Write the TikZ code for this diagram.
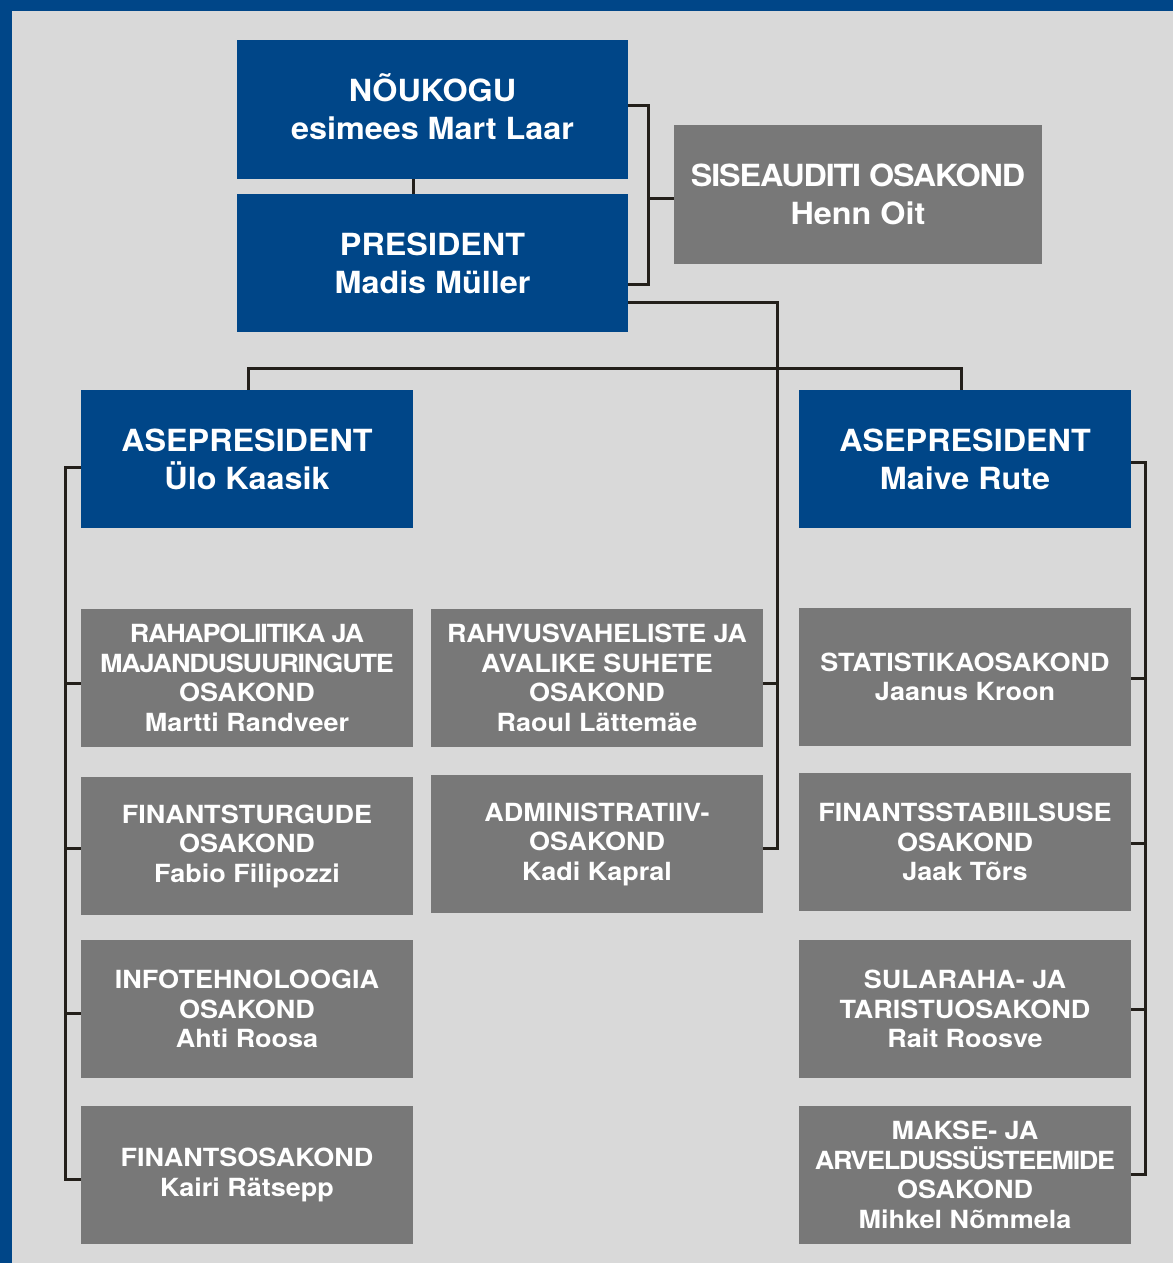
\documentclass[tikz,border=0pt]{standalone}
\usepackage{fontspec}
\setmainfont{TeX Gyre Heros}
\newfontfamily\topfont[FakeStretch=1.06]{TeX Gyre Heros}
\newfontfamily\deptfont[FakeStretch=1.08]{TeX Gyre Heros}
\newcommand\tight[2]{{\addfontfeatures{LetterSpace=#1}#2}}
\definecolor{bgc}{RGB}{217,217,217}
\definecolor{bluec}{RGB}{0,70,136}
\definecolor{grayc}{RGB}{120,120,120}
\definecolor{linec}{RGB}{35,31,26}
\tikzset{
  topbox/.style={fill=bluec, text=white, inner sep=0pt, align=center,
    font=\topfont\fontsize{30.5}{38}\selectfont\bfseries},
  sisebox/.style={fill=grayc, text=white, inner sep=0pt, align=center,
    font=\topfont\fontsize{30.5}{38}\selectfont\bfseries},
  deptbox/.style={fill=grayc, text=white, inner sep=0pt, align=center,
    minimum width=332pt, minimum height=138pt,
    font=\deptfont\fontsize{25}{29.5}\selectfont\bfseries},
  conn/.style={draw=linec, line width=3pt},
}
\begin{document}
\begin{tikzpicture}[x=1pt,y=-1pt]
\fill[bgc] (0,0) rectangle (1173,1263);
\fill[bluec] (0,0) rectangle (1173,11);
\fill[bluec] (0,0) rectangle (12,1263);
\useasboundingbox (0,0) rectangle (1173,1263);

\node[topbox, minimum width=391pt, minimum height=139pt] (nou) at (432.5,109.5) {\smash{NÕUKOGU}\vphantom{NOUKOGU}\\esimees Mart Laar};
\node[topbox, minimum width=391pt, minimum height=138pt] (pres) at (432.5,263) {PRESIDENT\\Madis Müller};
\node[sisebox, minimum width=368pt, minimum height=139pt] (sise) at (858,194.5) {\tight{-3.7}{SISEAUDITI OSAKOND}\\Henn Oit};
\node[topbox, minimum width=332pt, minimum height=138pt] (apL) at (247,459) {ASEPRESIDENT\\Ülo Kaasik};
\node[topbox, minimum width=332pt, minimum height=138pt] (apR) at (965,459) {ASEPRESIDENT\\Maive Rute};

\node[deptbox] (L1) at (247,678) {\tight{-5.3}{RAHAPOLIITIKA JA}\\\tight{-4.8}{MAJANDUSUURINGUTE}\\OSAKOND\\Martti Randveer};
\node[deptbox] (L2) at (247,846) {FINANTSTURGUDE\\OSAKOND\\Fabio Filipozzi};
\node[deptbox] (L3) at (247,1009) {INFOTEHNOLOOGIA\\OSAKOND\\Ahti Roosa};
\node[deptbox] (L4) at (247,1175) {FINANTSOSAKOND\\Kairi Rätsepp};

\node[deptbox] (M1) at (597,678) {\tight{-1}{RAHVUSVAHELISTE JA}\\AVALIKE SUHETE\\OSAKOND\\Raoul Lättemäe};
\node[deptbox] (M2) at (597,844) {ADMINISTRATIIV-\\OSAKOND\\Kadi Kapral};

\node[deptbox] (R1) at (965,677) {STATISTIKAOSAKOND\\Jaanus Kroon};
\node[deptbox] (R2) at (965,842) {FINANTSSTABIILSUSE\\OSAKOND\\Jaak Tõrs};
\node[deptbox] (R3) at (965,1009) {SULARAHA- JA\\TARISTUOSAKOND\\Rait Roosve};
\node[deptbox] (R4) at (965,1175) {MAKSE- JA\\\tight{-5.4}{ARVELDUSSÜSTEEMIDE}\\OSAKOND\\Mihkel Nõmmela};

% top connectors
\draw[conn] ([xshift=-19.5pt]nou.south) -- ([xshift=-19.5pt]pres.north);
\draw[conn] ([yshift=4.5pt]nou.east) -- ++(20,0) |- ([yshift=-21pt]pres.east);
\draw[conn] ([yshift=-3.5pt]sise.west) -- ++(-26,0);

% president to vice-presidents
\draw[conn] ([xshift=1pt]apL.north) -- ++(0,-21) -| ([xshift=-4pt]apR.north);

% president to middle column
\draw[conn] ([yshift=-39pt]pres.east) -- ++(149,0) |- ([yshift=-4pt]M2.east);
\draw[conn] ([yshift=-5pt]M1.east) -- ++(14,0);

% left bracket
\draw[conn] ([yshift=-8pt]apL.west) -- ++(-15,0) |- ([yshift=-4pt]L4.west);
\draw[conn] ([yshift=-5pt]L1.west) -- ++(-15,0);
\draw[conn] ([yshift=-2pt]L2.west) -- ++(-15,0);
\draw[conn] ([yshift=-4pt]L3.west) -- ++(-15,0);

% right bracket
\draw[conn] ([yshift=-3pt]apR.east) -- ++(14,0) |- ([yshift=1pt]R4.east);
\draw[conn] ([yshift=-1pt]R1.east) -- ++(14,0);
\draw[conn] ([yshift=-1pt]R2.east) -- ++(14,0);
\draw[conn] (R3.east) -- ++(14,0);
\end{tikzpicture}
\end{document}
